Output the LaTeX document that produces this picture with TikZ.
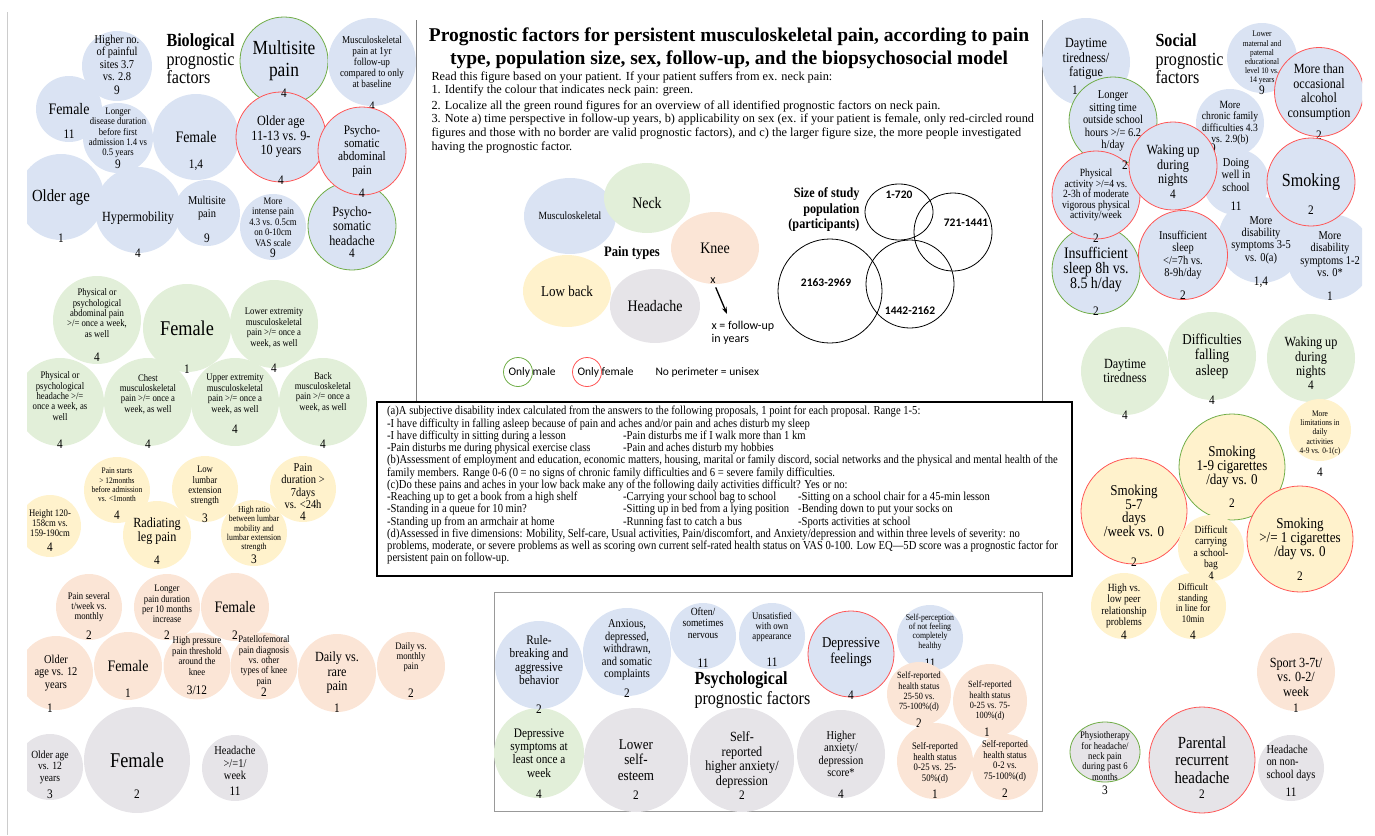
\documentclass[tikz,border=0pt]{standalone}
\usepackage{fontspec}
\setmainfont{Liberation Serif}[FakeStretch=0.87]
\newfontfamily\plainserif{Liberation Serif}
\newfontfamily\legfont{Carlito}
\usetikzlibrary{arrows.meta,shapes.geometric}

\definecolor{cblue}{RGB}{218,227,243}
\definecolor{cgreen}{RGB}{226,239,217}
\definecolor{cyellow}{RGB}{255,242,204}
\definecolor{corange}{RGB}{251,229,214}
\definecolor{cgray}{RGB}{230,228,232}
\definecolor{cred}{RGB}{255,85,85}
\definecolor{cgreenb}{RGB}{112,173,71}

\newcommand\fsz[2]{\fontsize{#1}{#2}\selectfont}
\newcommand\colA[1]{\makebox[236pt][l]{#1}}
\newcommand\colB[1]{\makebox[175pt][l]{#1}}

\begin{document}
\begin{tikzpicture}[x=1pt, y=-1pt,
  fac/.style={circle, fill=#1, inner sep=0pt},
  oval/.style={ellipse, fill=#1, inner sep=0pt},
  rb/.style={draw=cred, line width=0.8pt},
  gb/.style={draw=cgreenb, line width=0.8pt},
  txt/.style={anchor=center, align=center, yshift=#1pt},
  txt/.default=0,
  num/.style={anchor=center, font=\fsz{13}{13}, yshift=#1pt},
  num/.default=8,
  pop/.style={circle, draw, line width=0.8pt, inner sep=0pt},
  poplab/.style={anchor=center, font=\legfont\bfseries\fsz{11.5}{12}},
  t85/.style={font=\fsz{8.5}{9.2}},
  t9/.style={font=\fsz{9}{9.4}},
  t95/.style={font=\fsz{9.5}{10.4}},
  t10/.style={font=\fsz{10}{10.4}},
  t105/.style={font=\fsz{10.5}{11.2}},
  t11/.style={font=\fsz{11}{11.4}},
  t12/.style={font=\fsz{12}{12.4}},
  t13/.style={font=\fsz{13}{13.4}},
  t14/.style={font=\fsz{14}{14.5}},
  t15/.style={font=\fsz{15}{15.5}},
  t16/.style={font=\fsz{16}{16.5}},
  t17/.style={font=\fsz{17}{17.5}},
  t18/.style={font=\fsz{18.5}{19}},
  t20/.style={font=\fsz{20}{22}},
  t21/.style={font=\fsz{21}{22}}]
\useasboundingbox (0,0) rectangle (1375,835);
\draw[black!20] (7,12) -- (7,835);

% frames
\draw[black!50, line width=0.8pt] (416,20) -- (416,402);
\draw[black!50, line width=0.8pt] (1042,20) -- (1042,402);
\draw[line width=1.2pt] (377,402) rectangle (1072,576);
\draw[black!40, line width=1pt] (494,592) rectangle (1042,811);

\begin{scope}
\clip (27,0) rectangle (1362,835);

% biological
\node[fac=cblue, minimum size=70pt, label={[txt=8,t12]center:{Higher no.\\of painful\\sites 3.7\\vs. 2.8}}, label={[num=11]south:9}] (hpain) at (117,66) {};
\node[fac=cblue, minimum size=66pt, label={[txt,t16]center:Female}, label={[num]south:11}] (fem11) at (69,109) {};
\node[fac=cblue, minimum size=70pt, label={[txt=5,t10]center:{Longer\\disease duration\\before first\\admission 1.4 vs\\0.5 years}}, label={[num=9]south:9}] (longdis) at (118,138) {};
\node[fac=cblue, minimum size=86pt, label={[txt,t17]center:Older age}, label={[num=2]south:1}] (oldage) at (61,197) {};
\node[fac=cblue, minimum size=86pt, label={[txt=-8,t14]center:Hypermobility}, label={[num=0]south:4}] (hyper) at (138,210) {};
\node[fac=cblue, minimum size=86pt, label={[txt,t16]center:Female}, label={[num=15]south:{1,4}}] (fem14) at (196,137) {};
\node[fac=cblue, minimum size=66pt, label={[txt=5,t12]center:{Multisite\\pain}}, label={[num]south:9}] (msite9) at (207,213) {};
\node[anchor=west, align=left, font=\fsz{18.5}{18.5}] (biotitle) at (163,59) {\textbf{Biological}\\prognostic\\factors};
\node[fac=cblue, gb, minimum size=88pt, label={[txt,t20]center:{Multisite\\pain}}] (mpain) at (284,61) {};
\node[fac=cblue, minimum size=88pt, label={[txt,t105]center:{Musculoskeletal\\pain at 1yr\\follow-up\\compared to only\\at baseline}}, label={[num=0]south:4}] (msk1yr) at (372,62) {};
\node[fac=cblue, rb, minimum size=90pt, label={[txt,t14]center:{Older age\\11-13 vs. 9-\\10 years}}, label={[num=2]south:4}] (old1113) at (281,137) {};
\node[font=\fsz{13}{13}] (mpainnum) at (284,93) {4};
\node[fac=cblue, gb, minimum size=88pt, label={[txt,t14]center:{Psycho-\\somatic\\headache}}, label={[num=17]south:4}] (psyhead) at (352,226) {};
\node[fac=cblue, rb, minimum size=88pt, label={[txt,t13]center:{Psycho-\\somatic\\abdominal\\pain}}, label={[num=2]south:4}] (psyabd) at (362,151) {};
\node[fac=cblue, minimum size=66pt, label={[txt=5,t10]center:{More\\intense pain\\4.3 vs. 0.5cm\\on 0-10cm\\VAS scale}}, label={[num=7]south:9}] (intense) at (273,227) {};

% neck
\node[fac=cgreen, minimum size=88pt, label={[txt=7,t10]center:{Physical or\\psychological\\abdominal pain\\>/= once a week,\\as well}}, label={[num=7]south:4}] (abdpain) at (97,320) {};
\node[fac=cgreen, minimum size=88pt, label={[txt,t21]center:Female}, label={[num=3]south:1}] (femG) at (187,328) {};
\node[fac=cgreen, minimum size=88pt, label={[txt=-4,t10]center:{Lower extremity\\musculoskeletal\\pain >/= once a\\week, as well}}, label={[num=0]south:4}] (lowext) at (274,324) {};
\node[fac=cgreen, minimum size=88pt, label={[txt=6,t10]center:{Physical or\\psychological\\headache >/=\\once a week, as\\well}}, label={[num=2]south:4}] (headG) at (60,402) {};
\node[fac=cgreen, minimum size=88pt, label={[txt=8,t10]center:{Chest\\musculoskeletal\\pain >/= once a\\week, as well}}, label={[num=2]south:4}] (chest) at (148,402) {};
\node[fac=cgreen, minimum size=88pt, label={[txt=8,t10]center:{Upper extremity\\musculoskeletal\\pain >/= once a\\week, as well}}, label={[num=17]south:4}] (upper) at (235,402) {};
\node[fac=cgreen, minimum size=88pt, label={[txt=10,t10]center:{Back\\musculoskeletal\\pain >/= once a\\week, as well}}, label={[num=2]south:4}] (back) at (323,402) {};

% low back
\node[fac=cyellow, minimum size=66pt, label={[txt=5,t85]center:{Pain starts\\> 12months\\before admission\\vs. <1month}}, label={[num=8]south:4}] (pstart) at (117,490) {};
\node[fac=cyellow, minimum size=66pt, label={[txt=3,t10]center:{Low\\lumbar\\extension\\strength}}, label={[num=4]south:3}] (lowlumb) at (205,489) {};
\node[fac=cyellow, minimum size=66pt, label={[txt=3,t12]center:{Pain\\duration >\\7days\\vs. <24h}}, label={[num=6]south:4}] (pdur) at (303,489) {};
\node[fac=cyellow, minimum size=62pt, label={[txt=3,t10]center:{Height 120-\\158cm vs.\\159-190cm}}, label={[num=10]south:4}] (height) at (50,526) {};
\node[fac=cyellow, minimum size=68pt, label={[txt=4,t14]center:{Radiating\\leg pain}}, label={[num=9]south:4}] (radleg) at (157,535) {};
\node[fac=cyellow, minimum size=66pt, label={[txt=4,t9]center:{High ratio\\between lumbar\\mobility and\\lumbar extension\\strength}}, label={[num=7]south:3}] (hratio) at (254,533) {};

% knee
\node[fac=corange, minimum size=66pt, label={[txt,t10]center:{Pain several\\t/week vs.\\monthly}}, label={[num=5]south:2}] (psev) at (89,607) {};
\node[fac=corange, minimum size=66pt, label={[txt=3,t10]center:{Longer\\pain duration\\per 10 months\\increase}}, label={[num=5]south:2}] (lpdur) at (167,607) {};
\node[fac=corange, minimum size=68pt, label={[txt,t16]center:Female}, label={[num=6]south:2}] (femK) at (235,607) {};
\node[fac=corange, minimum size=74pt, label={[txt,t12]center:{Older\\age vs. 12\\years}}, label={[num=2, xshift=-6pt]south:1}] (oldK) at (56,673) {};
\node[fac=corange, minimum size=68pt, label={[txt,t16]center:Female}, label={[num=7]south:1}] (femK1) at (128,666) {};
\node[fac=corange, minimum size=67pt, label={[txt=10,t10]center:{High pressure\\pain threshold\\around the\\knee}}, label={[num=9]south:3/12}] (hpress) at (197,666) {};
\node[fac=corange, minimum size=67pt, label={[txt=5,t10]center:{Patellofemoral\\pain diagnosis\\vs. other\\types of knee\\pain}}, label={[num=8]south:2}] (patello) at (264,666) {};
\node[fac=corange, minimum size=78pt, label={[txt,t14]center:{Daily vs.\\rare\\pain}}, label={[num=4]south:1}] (dailyr) at (337,673) {};
\node[fac=corange, minimum size=68pt, label={[txt=9,t10]center:{Daily vs.\\monthly\\pain}}, label={[num=7]south:2}] (dailym) at (411,666) {};

% headache
\node[fac=cgray, minimum size=66pt, label={[txt,t11]center:{Older age\\vs. 12\\years}}, label={[num=6]south:3}] (oldH) at (50,767) {};
\node[fac=cgray, minimum size=106pt, label={[txt,t21]center:Female}, label={[num=19]south:2}] (femH) at (137,760) {};
\node[fac=cgray, minimum size=66pt, label={[txt=5,t12]center:{Headache\\>/=1/\\week}}, label={[num=10]south:11}] (headwk) at (235,768) {};

% header
\node[font=\plainserif\bfseries\fsz{19.5}{23}, align=center] (title) at (729,48) {Prognostic factors for persistent musculoskeletal pain, according to pain\\type, population size, sex, follow-up, and the biopsychosocial model};
\node[anchor=west, align=left, font=\plainserif\fsz{12.3}{13.6}] (howto) at (428,112) {Read this figure based on your patient. If your patient suffers from ex. neck pain:\\
1. Identify the colour that indicates neck pain: green.\\[2pt]
2. Localize all the green round figures for an overview of all identified prognostic factors on neck pain.\\
3. Note a) time perspective in follow-up years, b) applicability on sex (ex. if your patient is female, only red-circled round\\
figures and those with no border are valid prognostic factors), and c) the larger figure size, the more people investigated\\
having the prognostic factor.};

% pain types
\node[oval=cblue, minimum width=92pt, minimum height=76pt, label={[txt,t11]center:Musculoskeletal}] (ptmsk) at (570,216) {};
\node[oval=cgreen, minimum width=86pt, minimum height=70pt, label={[txt=-5,t16]center:Neck}] (ptneck) at (647,198) {};
\node[oval=corange, minimum width=88pt, minimum height=72pt, label={[txt,t16]center:Knee}] (ptknee) at (715,248) {};
\node[oval=cyellow, minimum width=88pt, minimum height=72pt, label={[txt,t15]center:Low back}] (ptlow) at (567,291) {};
\node[oval=cgray, minimum width=90pt, minimum height=74pt, label={[txt,t16]center:Headache}] (pthead) at (655,306) {};
\node[font=\bfseries\fsz{14.5}{15}] (pttitle) at (632,253) {Pain types};
\node[font=\legfont\fsz{12}{12}] (xlab) at (713,281) {x};
\coordinate (xend) at (727,314);
\draw[-{Stealth[length=7pt,width=5pt]}, line width=1.3pt] (xlab) -- (xend);
\node[anchor=west, align=left, font=\legfont\fsz{12}{13}] (xnote) at (708,333) {x = follow-up\\in years};

% population size
\node[anchor=east, align=right, font=\bfseries\fsz{14}{15.5}] (poptitle) at (863,210) {Size of study\\population\\(participants)};
\node[pop, ellipse, minimum width=68pt, minimum height=56pt, label={[poplab, yshift=17pt]center:1-720}] (pop1) at (899,212) {};
\node[pop, minimum size=78pt, label={[poplab, xshift=13pt, yshift=9pt]center:721-1441}] (pop2) at (953,232) {};
\node[pop, minimum size=88pt, label={[poplab, yshift=-27pt]center:1442-2162}] (pop3) at (910,284) {};
\node[pop, minimum size=104pt, label={[poplab, xshift=-4pt, yshift=8pt]center:2163-2969}] (pop4) at (830,291) {};

% sex legend
\node[circle, gb, minimum size=29pt] (lgmale) at (518,372) {};
\node[anchor=west, font=\legfont\fsz{11.5}{12}] (lgmaletxt) at (505,372) {Only male};
\node[circle, rb, minimum size=29pt] (lgfem) at (587,372) {};
\node[anchor=west, font=\legfont\fsz{11.5}{12}] (lgfemtxt) at (574,372) {Only female};
\node[anchor=west, font=\legfont\fsz{11.5}{12}] (lguni) at (652,372) {No perimeter = unisex};

% notes
\node[anchor=north west, align=left, inner sep=0pt, font=\fsz{12.2}{12.25}] (notes) at (387,406) {%
(a)A subjective disability index calculated from the answers to the following proposals, 1 point for each proposal. Range 1-5:\\
-I have difficulty in falling asleep because of pain and aches and/or pain and aches disturb my sleep\\
\colA{-I have difficulty in sitting during a lesson}-Pain disturbs me if I walk more than 1 km\\
\colA{-Pain disturbs me during physical exercise class}-Pain and aches disturb my hobbies\\
(b)Assessment of employment and education, economic matters, housing, marital or family discord, social networks and the physical and mental health of the\\
family members. Range 0-6 (0 = no signs of chronic family difficulties and 6 = severe family difficulties.\\
(c)Do these pains and aches in your low back make any of the following daily activities difficult? Yes or no:\\
\colA{-Reaching up to get a book from a high shelf}\colB{-Carrying your school bag to school}-Sitting on a school chair for a 45-min lesson\\
\colA{-Standing in a queue for 10 min?}\colB{-Sitting up in bed from a lying position}-Bending down to put your socks on\\
\colA{-Standing up from an armchair at home}\colB{-Running fast to catch a bus}-Sports activities at school\\
(d)Assessed in five dimensions: Mobility, Self-care, Usual activities, Pain/discomfort, and Anxiety/depression and within three levels of severity: no\\
problems, moderate, or severe problems as well as scoring own current self-rated health status on VAS 0-100. Low EQ---5D score was a prognostic factor for\\
persistent pain on follow-up.};

% psychological
\node[fac=cgreen, minimum size=90pt, label={[txt,t13]center:{Depressive\\symptoms at\\least once a\\week}}, label={[num=4]south:4}] (depsym) at (539,753) {};
\node[fac=cblue, minimum size=88pt, label={[txt=5,t13]center:{Rule-\\breaking and\\aggressive\\behavior}}, label={[num=0]south:2}] (rule) at (539,665) {};
\node[fac=cblue, minimum size=88pt, label={[txt=2,t12]center:{Anxious,\\depressed,\\withdrawn,\\and somatic\\complaints}}, label={[num=3]south:2}] (anxious) at (627,652) {};
\node[fac=cblue, minimum size=66pt, label={[txt=13,t11]center:{Often/\\sometimes\\nervous}}, label={[num=6]south:11}] (nervous) at (703,636) {};
\node[fac=cblue, minimum size=66pt, label={[txt=9,t10]center:{Unsatisfied\\with own\\appearance}}, label={[num=7]south:11}] (unsat) at (772,636) {};
\node[fac=cblue, rb, minimum size=86pt, label={[txt=2,t15]center:{Depressive\\feelings}}, label={[num=2]south:4}] (depfeel) at (851,654) {};
\node[fac=cblue, minimum size=66pt, label={[txt=6,t9]center:{Self-perception\\of not feeling\\completely\\healthy}}, label={[num=8]south:11}] (selfperc) at (930,638) {};
\node[anchor=west, align=left, font=\fsz{18.5}{20}] (psytitle) at (691,690) {\textbf{Psychological}\\prognostic factors};
\node[fac=corange, minimum size=64pt, label={[txt=2,t95]center:{Self-reported\\health status\\25-50 vs.\\75-100\%(d)}}, label={[num=3]south:2}] (sr2550) at (919,694) {};
\node[fac=corange, minimum size=74pt, label={[txt,t95]center:{Self-reported\\health status\\0-25 vs. 75-\\100\%(d)}}, label={[num=6, xshift=-3pt]south:1}] (sr025) at (990,701) {};
\node[fac=cgray, minimum size=104pt, label={[txt,t15]center:{Lower\\self-\\esteem}}, label={[num=17]south:2}] (lowself) at (636,760) {};
\node[fac=cgray, minimum size=104pt, label={[txt,t14]center:{Self-\\reported\\higher anxiety/\\depression}}, label={[num=17]south:2}] (srhigher) at (742,760) {};
\node[fac=cgray, minimum size=88pt, label={[txt,t12]center:{Higher\\anxiety/\\depression\\score*}}, label={[num=4]south:4}] (highanx) at (841,754) {};
\node[fac=corange, minimum size=76pt, label={[txt=-2,t10]center:{Self-reported\\health status\\0-25 vs. 25-\\50\%(d)}}, label={[num=5]south:1}] (sr0250) at (935,761) {};
\node[fac=corange, minimum size=66pt, label={[txt=6,t10]center:{Self-reported\\health status\\0-2 vs.\\75-100\%(d)}}, label={[num=7]south:2}] (sr02) at (1005,767) {};

% social
\node[fac=cblue, minimum size=88pt, label={[txt=3,t14]center:{Daytime\\tiredness/\\fatigue}}, label={[num=16, xshift=-11pt]south:1}] (daytf) at (1086,62) {};
\node[anchor=west, align=left, font=\fsz{18.5}{18.5}] (soctitle) at (1152,59) {\textbf{Social}\\prognostic\\factors};
\node[fac=cblue, minimum size=70pt, label={[txt,t85]center:{Lower\\maternal and\\paternal\\educational\\level 10 vs.\\14 years}}, label={[num=3]south:9}] (lowmat) at (1262,58) {};
\node[fac=cblue, minimum size=68pt, label={[txt,t11]center:{More\\chronic family\\difficulties 4.3\\vs. 2.9(b)}}, label={[num=9, xshift=-17pt]south:9}] (chronic) at (1230,123) {};
\node[fac=cblue, minimum size=86pt, label={[txt=3,t12]center:{More\\disability\\symptoms 1-2\\vs. 0*}}, label={[num=4]south:1}] (dis12) at (1330,257) {};
\node[fac=cblue, minimum size=86pt, label={[txt,t12]center:{More\\disability\\symptoms 3-5\\vs. 0(a)}}, label={[num=1]south:{1,4}}] (dis35) at (1261,240) {};
\node[fac=cblue, minimum size=66pt, label={[txt=7,t12]center:{Doing\\well in\\school}}, label={[num=9]south:11}] (doing) at (1236,182) {};
\node[fac=cblue, gb, minimum size=88pt, label={[txt,t12]center:{Longer\\sitting time\\outside school\\hours >/= 6.2\\h/day}}] (sitting) at (1113,121) {};
\node[fac=cblue, gb, minimum size=88pt, label={[txt,font=\fsz{16}{14.5}]center:{Insufficient\\sleep 8h vs.\\8.5 h/day}}, label={[num=3]south:2}] (insuf8) at (1096,270) {};
\node[fac=cblue, rb, minimum size=88pt, label={[txt,font=\fsz{11}{10.5}]center:{Physical\\activity >/=4 vs.\\2-3h of moderate\\vigorous physical\\activity/week}}, label={[num=1]south:2}] (physact) at (1096,195) {};
\node[font=\fsz{13}{13}] (sittingnum) at (1125,165) {2};
\node[fac=cblue, rb, minimum size=88pt, label={[txt,t14]center:{Waking up\\during\\nights}}, label={[num=16]south:4}] (wakeR) at (1173,166) {};
\node[fac=cblue, rb, minimum size=89pt, label={[txt,t12]center:{Insufficient\\sleep\\</=7h vs.\\8-9h/day}}, label={[num=5]south:2}] (insuf7) at (1183,255) {};
\node[fac=cblue, rb, minimum size=89pt, label={[txt,t14]center:{More than\\occasional\\alcohol\\consumption}}, label={[num=2]south:2}] (alcohol) at (1319,92) {};
\node[fac=cblue, rb, minimum size=88pt, label={[txt,t18]center:Smoking}, label={[num=16]south:2}] (smoke) at (1311,182) {};

% sleep / neck (social)
\node[fac=cgreen, minimum size=88pt, label={[txt,t14]center:{Daytime\\tiredness}}, label={[num=0]south:4}] (daytG) at (1125,371) {};
\node[fac=cgreen, minimum size=88pt, label={[txt,t15]center:{Difficulties\\falling\\asleep}}, label={[num=0]south:4}] (difffall) at (1212,356) {};
\node[fac=cgreen, minimum size=88pt, label={[txt,t14]center:{Waking up\\during\\nights}}, label={[num=17]south:4}] (wakeG) at (1311,358) {};

% low back (social)
\node[fac=cyellow, minimum size=62pt, label={[txt=-3,t85]center:{More\\limitations in\\daily\\activities\\4-9 vs. 0-1(c)}}, label={[num=-11]south:4}] (morelim) at (1320,430) {};
\node[fac=cyellow, gb, minimum size=106pt, label={[txt,font=\fsz{15}{13.5}]center:{Smoking\\1-9 cigarettes\\/day vs. 0}}, label={[num=17]south:2}] (smk19) at (1232,467) {};
\node[fac=cyellow, rb, minimum size=106pt, label={[txt,font=\fsz{15}{12.8}]center:{Smoking\\5-7\\days\\/week vs. 0}}, label={[num=2]south:2}] (smk57) at (1134,511) {};
\node[fac=cyellow, minimum size=66pt, label={[txt,t11]center:{Difficult\\carrying\\a school-\\bag}}, label={[num=5]south:4}] (diffcarry) at (1211,548) {};
\node[fac=cyellow, rb, minimum size=106pt, label={[txt,font=\fsz{15}{14}]center:{Smoking\\>/= 1 cigarettes\\/day vs. 0}}, label={[num=16]south:2}] (smk1) at (1300,539) {};
\node[fac=cyellow, minimum size=66pt, label={[txt,t11]center:{High vs.\\low peer\\relationship\\problems}}, label={[num=4]south:4}] (peer) at (1124,606) {};
\node[fac=cyellow, minimum size=66pt, label={[txt=3,t10]center:{Difficult\\standing\\in line for\\10min}}, label={[num=4]south:4}] (standline) at (1193,606) {};

% knee / headache (social)
\node[fac=corange, minimum size=78pt, label={[txt=-5,t14]center:{Sport 3-7t/\\vs. 0-2/\\week}}, label={[num=3]south:1}] (sport) at (1296,672) {};
\node[oval=cgray, gb, minimum width=70pt, minimum height=60pt, label={[txt=-4,t10]center:{Physiotherapy\\for headache/\\neck pain\\during past 6\\months}}, label={[num=-8]south:3}] (physio) at (1105,752) {};
\node[fac=cgray, rb, minimum size=106pt, label={[txt,t17]center:{Parental\\recurrent\\headache}}, label={[num=19]south:2}] (parental) at (1202,760) {};
\node[fac=cgray, minimum size=66pt, label={[anchor=center, align=left, yshift=5pt, t12]center:{Headache\\on non-\\school days}}, label={[num=9]south:11}] (nonsch) at (1291,768) {};
\end{scope}
\end{tikzpicture}
\end{document}
